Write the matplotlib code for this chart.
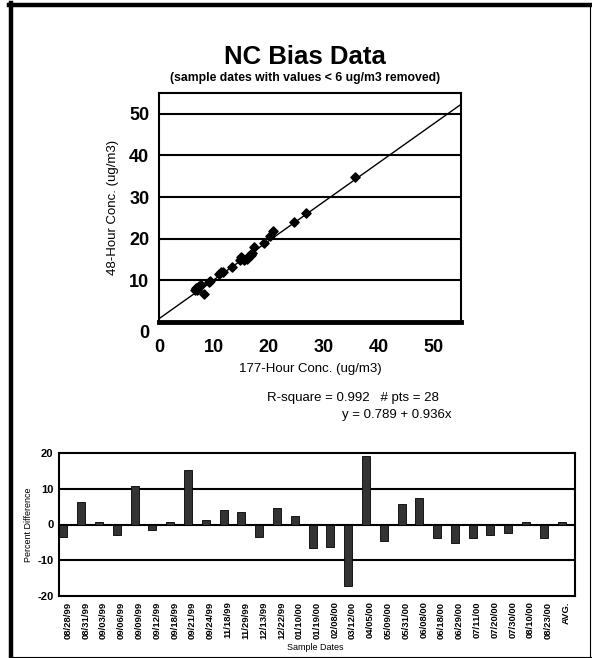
import matplotlib
matplotlib.use("Agg")
import matplotlib.pyplot as plt
from matplotlib.lines import Line2D
import matplotlib.transforms as mtransforms
import numpy as np

plt.rcParams['font.family'] = ['Liberation Sans', 'DejaVu Sans']
plt.rcParams['axes.unicode_minus'] = False

# ---- scatter data ----
x177 = [6.5, 6.7, 7.0, 7.3, 7.6, 8.2, 9.1, 9.3, 11.0, 11.3, 11.6, 13.3, 14.8, 15.0,
        15.1, 15.4, 16.0, 16.2, 16.5, 16.8, 17.0, 17.3, 19.2, 20.3, 20.8, 24.5, 26.7, 35.7]
y48 = [7.7, 8.1, 7.8, 8.6, 9.0, 6.8, 9.6, 9.9, 11.6, 12.1, 12.0, 13.3, 14.9, 15.6,
       15.3, 14.9, 15.2, 15.6, 16.2, 16.0, 16.5, 17.9, 19.0, 20.7, 21.9, 23.9, 26.2, 34.9]
fit_intercept = 0.789
fit_slope = 0.936
scatter_ticks = [0, 10, 20, 30, 40, 50]

# ---- bar data ----
dates = ["08/28/99", "08/31/99", "09/03/99", "09/06/99", "09/09/99", "09/12/99",
         "09/18/99", "09/21/99", "09/24/99", "11/18/99", "11/29/99", "12/13/99",
         "12/22/99", "01/10/00", "01/19/00", "02/08/00", "03/12/00", "04/05/00",
         "05/09/00", "05/31/00", "06/08/00", "06/18/00", "06/29/00", "07/11/00",
         "07/20/00", "07/30/00", "08/10/00", "08/23/00", "AVG."]
pct_diff = [-3.5, 6.4, 0.7, -2.8, 10.7, -1.6, 0.6, 15.2, 1.2, 4.0, 3.5, -3.5,
            4.6, 2.3, -6.7, -6.3, -17.3, 19.2, -4.5, 5.8, 7.5, -3.9, -5.1, -3.9,
            -2.8, -2.3, 0.7, -3.9, 0.7]
bar_ticks = [-20, -10, 0, 10, 20]

W, H = 592, 658
fig = plt.figure(figsize=(W / 100, H / 100), dpi=100)

def fx(px):
    return px / W

def fy(py):
    return 1 - py / H

# frame around figure
fig.add_artist(Line2D([fx(9), fx(591)], [fy(5), fy(5)], color='black', lw=3.2))
fig.add_artist(Line2D([fx(11), fx(11)], [fy(3), fy(658)], color='black', lw=3.2))
fig.add_artist(Line2D([fx(590), fx(590)], [fy(5), fy(657)], color='black', lw=0.8))
fig.add_artist(Line2D([fx(9), fx(591)], [fy(657), fy(657)], color='black', lw=0.8))

# ---- scatter axes ----
ax = fig.add_axes([fx(159), fy(322), fx(461) - fx(159), fy(93) - fy(322)])
ax.set_xlim(0, 55)
ax.set_ylim(0, 55)
for yv in scatter_ticks[1:]:
    ax.axhline(yv, color='black', lw=1.5, zorder=1)
xs = np.array([0, 55])
ax.plot(xs, fit_intercept + fit_slope * xs, color='black', lw=1.0, zorder=2)
ax.scatter(x177, y48, marker='D', s=22, color='black', zorder=3)
ax.set_xticks(scatter_ticks)
ax.set_yticks(scatter_ticks)
ax.tick_params(length=0, labelsize=13)
ax.tick_params(axis='x', pad=12)
ax.tick_params(axis='y', pad=7)
for lab in ax.get_xticklabels() + ax.get_yticklabels():
    lab.set_fontweight('bold')
# Excel-style: the "0" label on the y axis sits a little below the axis line
zero_lab = ax.get_yticklabels()[0]
zero_lab.set_transform(zero_lab.get_transform() +
                       mtransforms.ScaledTranslation(0, -10 / 100, fig.dpi_scale_trans))
for s in ['left', 'right', 'top']:
    ax.spines[s].set_linewidth(1.5)
ax.spines['bottom'].set_linewidth(3.5)
ax.set_xlabel("177-Hour Conc. (ug/m3)", fontsize=9.5, labelpad=5)
ax.set_ylabel("48-Hour Conc. (ug/m3)", fontsize=9.5, labelpad=7)

fig.text(fx(305), fy(57), "NC Bias Data", fontsize=18.5, fontweight='bold',
         ha='center', va='center')
fig.text(fx(305), fy(78), "(sample dates with values < 6 ug/m3 removed)",
         fontsize=8.8, fontweight='bold', ha='center', va='center')

fig.text(fx(267), fy(398), "R-square = %.3f   # pts = %d" % (0.992, len(x177)),
         fontsize=9.5, ha='left', va='center')
fig.text(fx(342), fy(415), "y = %.3f + %.3fx" % (fit_intercept, fit_slope),
         fontsize=9.5, ha='left', va='center')

# ---- bar axes ----
bx = fig.add_axes([fx(59), fy(596), fx(575) - fx(59), fy(453) - fy(596)])
idx = np.arange(len(dates))
bx.set_xlim(-0.5, len(dates) - 0.5)
bx.set_ylim(-20, 20)
for yv in [-10, 0, 10]:
    bx.axhline(yv, color='black', lw=1.5, zorder=1)
bx.bar(idx - 0.25, pct_diff, width=0.45, color='#333333', edgecolor='black',
       lw=0.6, zorder=2)
bx.set_xticks(idx)
bx.set_xticklabels(dates, rotation=90, fontsize=6.8, fontweight='bold')
bx.set_yticks(bar_ticks)
bx.tick_params(length=0, pad=4)
bx.tick_params(axis='y', labelsize=8, pad=4)
for lab in bx.get_yticklabels():
    lab.set_fontweight('bold')
for s in bx.spines.values():
    s.set_linewidth(1.5)
bx.set_ylabel("Percent Difference", fontsize=6.5, labelpad=3)
fig.text(fx(315), fy(647), "Sample Dates", fontsize=6.5, ha='center', va='center')

fig.savefig("out.png", dpi=100)
